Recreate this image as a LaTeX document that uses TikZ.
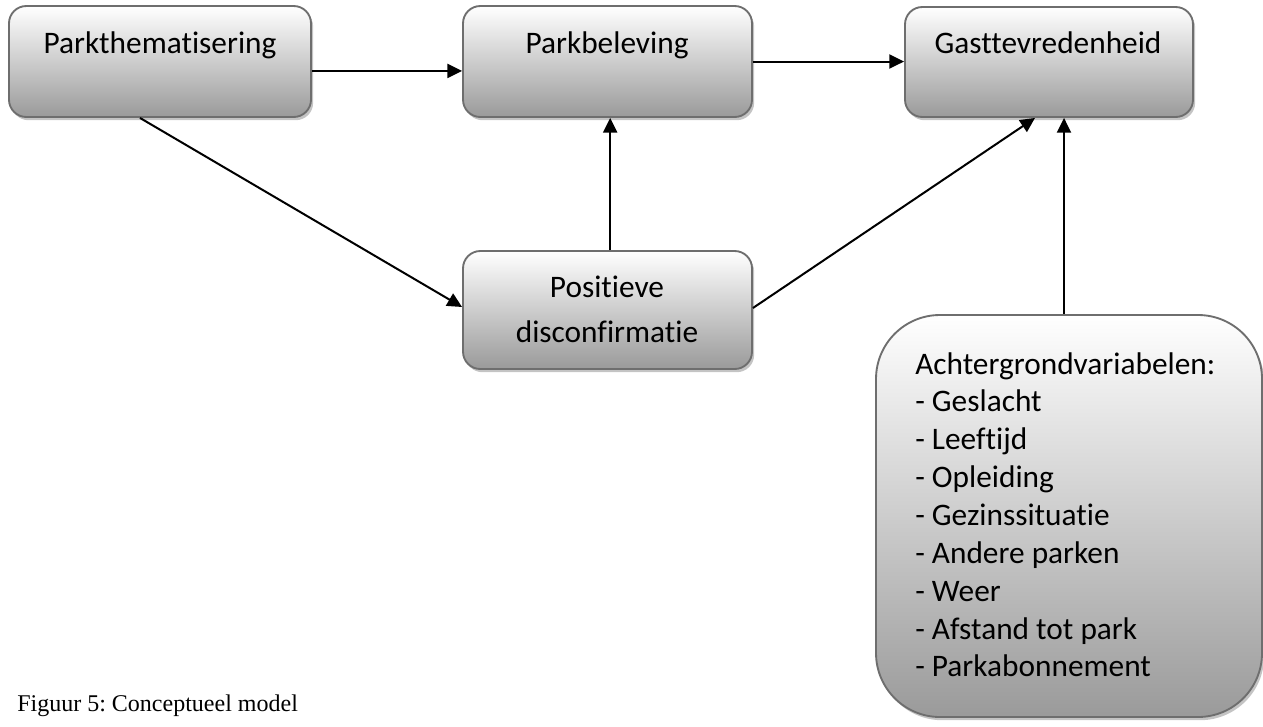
\documentclass[tikz,border=0pt]{standalone}
\usepackage{fontspec}
\setmainfont{Carlito}[Ligatures={NoCommon,NoRare,NoContextual}]
\newfontfamily\capfont{Liberation Serif}
\usetikzlibrary{arrows.meta,shadows}
\definecolor{bordergray}{HTML}{6E6E6E}
\definecolor{shadegray}{HTML}{9A9A9A}
\definecolor{shadowgray}{HTML}{C4C4C4}
\tikzset{
  box/.style={draw=bordergray, line width=1.4pt, rounded corners=13pt,
    top color=white, bottom color=shadegray, inner sep=0pt,
    drop shadow={shadow xshift=1.6pt, shadow yshift=-2.4pt, fill=shadowgray, opacity=1}},
  bigbox/.style={box, rounded corners=48pt},
  lbl/.style={font=\fontsize{23.5}{28.4}\selectfont, inner sep=0pt},
  arr/.style={line width=1.5pt, -{Triangle[length=11pt,width=10.5pt]}}
}
\frenchspacing
\begin{document}
\begin{tikzpicture}[x=0.75pt,y=-0.75pt]
\useasboundingbox (0,0) rectangle (1263,726);
% boxes
\node[box, minimum width=226.5pt, minimum height=83.25pt] (b1) at (160,61.5) {};
\node[box, minimum width=216.75pt, minimum height=83.25pt] (b2) at (607.5,61.5) {};
\node[box, minimum width=216pt, minimum height=82.5pt] (b3) at (1049,62) {};
\node[box, minimum width=216.75pt, minimum height=88.5pt] (b4) at (607.5,310) {};
\node[bigbox, minimum width=289.5pt, minimum height=301.5pt] (b5) at (1069,516) {};
% texts
\node[lbl, anchor=base] (t1) at (160,53) {Parkthematisering};
\node[lbl, anchor=base] (t2) at (607,53) {Parkbeleving};
\node[lbl, anchor=base] (t3) at (1048,53) {Gasttevredenheid};
\node[lbl, anchor=north, align=center, font=\fontsize{23.5}{33.75}\selectfont] (t4) at (607,276)
  {Positieve\\disconfirmatie};
\node[lbl, anchor=north west, align=left] (t5) at (915,352)
  {Achtergrondvariabelen:\\- Geslacht\\- Leeftijd\\- Opleiding\\- Gezinssituatie\\- Andere parken\\- Weer\\- Afstand tot park\\- Parkabonnement};
% caption
\node[anchor=base west, inner sep=0pt, font=\capfont\fontsize{18}{21}\selectfont] (cap) at (17,711) {Figuur 5: Conceptueel model};
% connectors
\draw[arr] ([yshift=-7.1pt]b1.east) -- ([yshift=-7.1pt]b2.west);
\draw[arr] (b2.east) -- (b2.east -| b3.west);
\draw[arr] ([xshift=-15pt]b1.south) -- ([yshift=2.25pt]b4.west);
\draw[arr] ([xshift=2pt]b4.north) -- ([xshift=2pt]b2.south);
\draw[arr] ([yshift=1.5pt]b4.east) -- ([xshift=-10.5pt]b3.south);
\draw[arr] ([xshift=-3.75pt]b5.north) -- ([xshift=11.25pt]b3.south);
\end{tikzpicture}
\end{document}
